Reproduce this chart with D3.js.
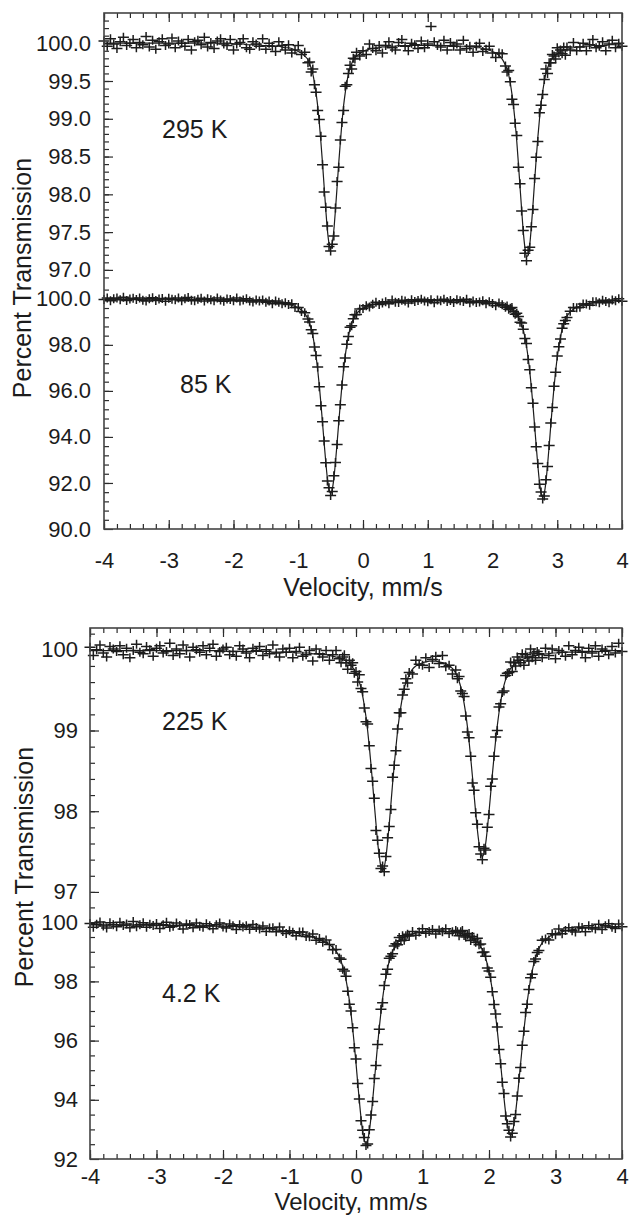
<!DOCTYPE html>
<html>
<head>
<meta charset="utf-8">
<title>Percent Transmission vs Velocity</title>
<script src="https://d3js.org/d3.v7.min.js"></script>
<style>
  body { margin: 0; background: #ffffff; }
  svg { display: block; }
</style>
</head>
<body>
<svg id="chart" width="633" height="1217"></svg>
<script>
// velocity channels (mm/s), upper figure
var velocityTop = [-4,-3.95,-3.9,-3.85,-3.8,-3.75,-3.7,-3.65,-3.6,-3.55,-3.5,-3.45,-3.4,-3.35,-3.3,-3.25,-3.2,-3.15,-3.1,-3.05,-3,-2.95,-2.9,-2.85,-2.8,-2.75,-2.7,-2.65,-2.6,-2.55,-2.5,-2.45,-2.4,-2.35,-2.3,-2.25,-2.2,-2.15,-2.1,-2.05,-2,-1.95,-1.9,-1.85,-1.8,-1.75,-1.7,-1.65,-1.6,-1.55,-1.5,-1.45,-1.4,-1.35,-1.3,-1.25,-1.2,-1.15,-1.1,-1.05,-1,-0.95,-0.9,-0.85,
  -0.825,-0.8,-0.775,-0.75,-0.725,-0.7,-0.675,-0.65,-0.625,-0.6,-0.575,-0.55,-0.525,-0.5,-0.475,-0.45,-0.425,-0.4,-0.375,-0.35,-0.325,-0.3,-0.275,-0.25,-0.225,-0.2,-0.175,-0.15,-0.125,
  -0.1,-0.05,0,0.05,0.1,0.15,0.2,0.25,0.3,0.35,0.4,0.45,0.5,0.55,0.6,0.65,0.7,0.75,0.8,0.85,0.9,0.95,1,1.05,1.1,1.15,1.2,1.25,1.3,1.35,1.4,1.45,1.5,1.55,1.6,1.65,1.7,1.75,1.8,1.85,1.9,1.95,2,2.05,2.1,2.15,2.2,
  2.225,2.25,2.275,2.3,2.325,2.35,2.375,2.4,2.425,2.45,2.475,2.5,2.525,2.55,2.575,2.6,2.625,2.65,2.675,2.7,2.725,2.75,2.775,2.8,2.825,2.85,2.875,2.9,2.925,2.95,2.975,3,3.025,3.05,3.075,3.1,3.125,
  3.15,3.2,3.25,3.3,3.35,3.4,3.45,3.5,3.55,3.6,3.65,3.7,3.75,3.8,3.85,3.9,3.95,4];

// 295 K: measured points and fitted curve (% transmission)
var data295 = [100.03,99.96,100.06,99.99,99.93,100.02,100.08,99.97,100.00,100.05,99.94,100.01,99.98,100.09,99.95,100.04,99.92,100.02,100.06,99.97,99.99,100.07,99.94,100.03,100.00,99.96,100.05,99.91,100.02,100.04,99.98,100.08,99.95,100.01,99.93,100.03,100.06,99.99,99.97,100.05,99.91,99.99,100.01,100.06,99.94,99.92,100.02,99.99,99.96,100.06,99.92,100.00,99.96,99.89,100.02,99.97,99.91,99.98,99.87,99.91,99.97,99.85,99.88,99.74,
  99.75,99.62,99.66,99.45,99.35,99.11,98.99,98.77,98.39,98.03,97.83,97.58,97.31,97.25,97.34,97.45,97.82,98.17,98.36,98.72,98.95,99.11,99.43,99.45,99.60,99.71,99.66,99.80,99.79,
  99.88,99.83,99.90,99.85,99.99,99.93,99.90,99.97,99.87,99.97,100.02,99.94,99.91,100.01,100.05,99.96,99.90,100.00,99.98,99.93,100.03,99.94,99.99,100.22,100.02,99.97,99.95,100.04,99.91,100.01,99.96,99.99,99.91,100.04,99.93,99.96,99.88,99.96,100.00,99.89,99.92,99.96,99.87,99.81,99.87,99.86,99.70,
  99.62,99.64,99.49,99.26,99.19,98.94,98.78,98.36,98.14,97.78,97.52,97.22,97.12,97.26,97.30,97.57,97.80,98.21,98.49,98.70,99.08,99.18,99.32,99.52,99.66,99.60,99.74,99.74,99.85,99.83,99.79,99.94,99.87,99.91,99.86,99.95,99.84,
  99.95,99.91,100.01,99.90,99.95,100.00,99.90,99.98,100.05,99.94,99.96,100.02,99.90,99.99,100.04,99.94,100.00,99.96];
var fit295 = [100,100,100,100,100,100,100,100,100,100,100,100,100,100,100,100,100,100,100,100,100,100,100,100,100,100,100,100,100,100,100,100,100,100,100,100,100,100,100,100,99.99,99.99,99.99,99.99,99.98,99.98,99.98,99.98,99.98,99.97,99.97,99.97,99.97,99.96,99.96,99.95,99.94,99.94,99.93,99.91,99.89,99.87,99.83,99.78,
  99.73,99.67,99.59,99.48,99.34,99.17,98.95,98.69,98.41,98.10,97.80,97.53,97.35,97.28,97.35,97.53,97.80,98.10,98.41,98.69,98.95,99.17,99.34,99.48,99.59,99.67,99.73,99.78,99.81,
  99.83,99.86,99.89,99.91,99.92,99.93,99.94,99.94,99.95,99.95,99.96,99.96,99.96,99.97,99.97,99.97,99.97,99.97,99.97,99.97,99.97,99.97,99.97,99.97,99.97,99.97,99.97,99.97,99.97,99.97,99.97,99.96,99.96,99.96,99.96,99.95,99.95,99.94,99.94,99.93,99.92,99.91,99.89,99.87,99.84,99.79,99.71,
  99.66,99.58,99.47,99.33,99.16,98.95,98.70,98.41,98.10,97.80,97.51,97.30,97.18,97.19,97.33,97.57,97.86,98.17,98.47,98.75,98.99,99.20,99.36,99.49,99.60,99.67,99.73,99.77,99.80,99.83,99.85,99.86,99.88,99.89,99.90,99.91,99.92,
  99.92,99.93,99.94,99.95,99.95,99.96,99.96,99.96,99.97,99.97,99.97,99.97,99.97,99.98,99.98,99.98,99.98,99.98];

// 85 K
var data85 = [99.97,100.04,99.92,100.00,100.03,99.96,100.07,99.93,99.99,100.02,99.97,100.04,99.94,99.90,100.00,100.05,99.93,99.99,100.01,99.89,100.02,99.98,99.96,100.04,99.92,100.00,100.06,99.94,99.92,99.98,100.02,99.90,100.00,99.96,99.92,100.03,99.95,99.89,99.99,99.97,99.92,100.03,99.90,99.95,100.00,99.91,99.86,99.95,99.91,99.95,99.85,99.90,99.79,99.91,99.85,99.79,99.83,99.75,99.79,99.62,99.62,99.45,99.39,99.12,
  98.99,98.66,98.49,97.91,97.54,97.04,96.18,95.35,94.66,93.82,92.88,92.08,91.79,91.45,91.63,92.31,92.89,93.67,94.70,95.40,96.26,97.05,97.43,98.03,98.36,98.76,98.83,99.13,99.31,
  99.32,99.56,99.58,99.70,99.64,99.76,99.85,99.75,99.82,99.87,99.79,99.95,99.85,99.84,99.94,99.90,99.82,99.96,99.88,99.93,99.98,99.90,99.87,99.96,99.83,99.95,99.92,99.98,99.88,99.93,99.84,99.96,99.92,99.88,99.98,99.83,99.91,99.84,99.86,99.92,99.79,99.87,99.80,99.70,99.82,99.74,99.63,
  99.69,99.55,99.59,99.62,99.45,99.33,99.37,99.23,98.98,98.95,98.68,98.28,98.06,97.36,96.92,96.14,95.46,94.43,93.57,92.85,91.94,91.61,91.30,91.43,92.14,92.71,93.63,94.61,95.28,96.20,96.81,97.52,97.92,98.25,98.72,98.92,99.06,
  99.19,99.46,99.62,99.61,99.63,99.77,99.78,99.72,99.87,99.87,99.83,99.94,99.88,99.83,99.95,99.92,100.00,99.89];
var fit85 = [99.99,99.99,99.99,99.99,99.99,99.99,99.99,99.99,99.99,99.99,99.98,99.98,99.98,99.98,99.98,99.98,99.98,99.98,99.98,99.98,99.98,99.98,99.98,99.98,99.98,99.98,99.97,99.97,99.97,99.97,99.97,99.97,99.97,99.96,99.96,99.96,99.96,99.95,99.95,99.95,99.95,99.95,99.95,99.94,99.94,99.93,99.93,99.92,99.91,99.90,99.89,99.88,99.87,99.85,99.84,99.82,99.79,99.76,99.72,99.67,99.60,99.51,99.36,99.12,
  98.93,98.70,98.39,97.99,97.51,96.92,96.24,95.45,94.61,93.74,92.91,92.20,91.72,91.55,91.72,92.20,92.91,93.74,94.61,95.45,96.24,96.92,97.51,97.99,98.39,98.70,98.93,99.12,99.26,
  99.35,99.50,99.59,99.66,99.71,99.74,99.77,99.80,99.82,99.84,99.85,99.86,99.87,99.88,99.89,99.89,99.90,99.90,99.91,99.91,99.91,99.91,99.92,99.92,99.92,99.92,99.92,99.92,99.92,99.91,99.91,99.91,99.91,99.90,99.90,99.89,99.88,99.87,99.86,99.85,99.84,99.83,99.81,99.78,99.76,99.72,99.67,
  99.65,99.61,99.57,99.53,99.48,99.41,99.32,99.22,99.08,98.88,98.65,98.33,97.94,97.45,96.86,96.16,95.36,94.50,93.61,92.77,92.05,91.56,91.39,91.56,92.05,92.77,93.61,94.50,95.36,96.16,96.86,97.45,97.94,98.34,98.66,98.89,99.10,
  99.24,99.43,99.55,99.63,99.69,99.73,99.77,99.80,99.82,99.85,99.86,99.88,99.89,99.90,99.91,99.92,99.92,99.93];

// velocity channels (mm/s), lower figure
var velocityBottom = [-4,-3.95,-3.9,-3.85,-3.8,-3.75,-3.7,-3.65,-3.6,-3.55,-3.5,-3.45,-3.4,-3.35,-3.3,-3.25,-3.2,-3.15,-3.1,-3.05,-3,-2.95,-2.9,-2.85,-2.8,-2.75,-2.7,-2.65,-2.6,-2.55,-2.5,-2.45,-2.4,-2.35,-2.3,-2.25,-2.2,-2.15,-2.1,-2.05,-2,-1.95,-1.9,-1.85,-1.8,-1.75,-1.7,-1.65,-1.6,-1.55,-1.5,-1.45,-1.4,-1.35,-1.3,-1.25,-1.2,-1.15,-1.1,-1.05,-1,-0.95,-0.9,-0.85,-0.8,-0.75,-0.7,-0.65,-0.6,-0.55,-0.5,-0.45,-0.4,-0.35,-0.3,-0.25,
  -0.225,-0.2,-0.175,-0.15,-0.125,-0.1,-0.075,-0.05,-0.025,0,0.025,0.05,0.075,0.1,0.125,0.15,0.175,0.2,0.225,0.25,0.275,0.3,0.325,0.35,0.375,0.4,0.425,0.45,0.475,0.5,0.525,0.55,0.575,0.6,0.625,0.65,0.675,0.7,0.725,0.75,0.775,
  0.8,0.85,0.9,0.95,1,1.05,1.1,1.15,1.2,1.25,1.3,1.35,1.4,1.45,1.5,
  1.525,1.55,1.575,1.6,1.625,1.65,1.675,1.7,1.725,1.75,1.775,1.8,1.825,1.85,1.875,1.9,1.925,1.95,1.975,2,2.025,2.05,2.075,2.1,2.125,2.15,2.175,2.2,2.225,2.25,2.275,2.3,2.325,2.35,2.375,2.4,2.425,2.45,2.475,2.5,2.525,2.55,2.575,2.6,2.625,2.65,2.675,2.7,2.725,
  2.75,2.8,2.85,2.9,2.95,3,3.05,3.1,3.15,3.2,3.25,3.3,3.35,3.4,3.45,3.5,3.55,3.6,3.65,3.7,3.75,3.8,3.85,3.9,3.95,4];

// 225 K
var data225 = [100.03,99.93,100.00,100.06,99.96,99.91,100.04,100.01,99.98,100.05,99.94,100.02,99.90,99.99,100.07,99.97,99.95,100.04,100.00,99.92,100.02,100.05,99.96,99.98,100.08,99.93,100.01,99.95,100.06,99.99,99.91,100.03,100.00,99.97,100.05,99.94,100.02,100.07,99.92,99.98,100.01,100.03,99.94,99.98,99.92,100.05,100.01,99.96,99.90,100.02,99.99,100.04,99.93,100.00,99.95,100.06,99.96,99.91,100.01,99.97,100.02,99.90,99.98,100.03,99.92,99.94,99.99,99.86,100.01,99.95,99.91,99.99,99.87,99.94,99.99,99.89,
  99.84,99.91,99.94,99.84,99.76,99.87,99.81,99.84,99.71,99.73,99.60,99.69,99.52,99.48,99.28,99.11,99.08,98.81,98.53,98.37,98.16,97.76,97.64,97.48,97.29,97.32,97.25,97.44,97.67,97.81,98.02,98.42,98.57,98.75,99.02,99.22,99.22,99.44,99.51,99.64,99.59,
  99.72,99.70,99.87,99.82,99.81,99.90,99.78,99.88,99.92,99.83,99.93,99.79,99.81,99.70,99.75,
  99.64,99.67,99.49,99.46,99.42,99.18,98.98,98.91,98.68,98.35,98.26,97.98,97.84,97.56,97.47,97.40,97.54,97.52,97.80,97.96,98.31,98.40,98.68,98.92,99.00,99.29,99.33,99.47,99.49,99.68,99.71,99.72,99.85,99.73,99.84,99.80,99.91,99.87,99.84,99.95,99.81,99.94,99.91,99.86,100.01,99.90,99.96,99.87,99.98,
  99.95,99.90,100.02,99.93,100.01,99.89,99.99,99.97,99.92,100.05,99.94,99.99,100.03,99.97,99.90,100.02,99.96,100.05,99.92,100.01,99.99,99.94,100.04,99.96,100.08,99.98];
var fit225 = [99.99,99.99,99.99,99.99,99.99,99.99,99.99,99.99,99.99,99.99,99.99,99.99,99.99,99.99,99.99,99.99,99.99,99.99,99.99,99.99,99.99,99.99,99.99,99.99,99.99,99.99,99.99,99.99,99.99,99.99,99.99,99.99,99.99,99.99,99.99,99.99,99.99,99.99,99.99,99.99,99.99,99.98,99.98,99.98,99.98,99.98,99.98,99.98,99.98,99.98,99.98,99.98,99.98,99.98,99.98,99.97,99.97,99.97,99.97,99.97,99.97,99.97,99.96,99.96,99.96,99.96,99.96,99.95,99.95,99.94,99.94,99.94,99.93,99.92,99.91,99.90,
  99.89,99.88,99.87,99.86,99.84,99.83,99.81,99.78,99.75,99.71,99.67,99.60,99.53,99.43,99.31,99.17,99.00,98.80,98.58,98.34,98.09,97.85,97.62,97.44,97.31,97.26,97.31,97.43,97.62,97.84,98.09,98.34,98.57,98.79,98.99,99.16,99.30,99.42,99.52,99.59,99.64,
  99.69,99.76,99.80,99.82,99.84,99.85,99.86,99.86,99.86,99.85,99.84,99.83,99.80,99.77,99.71,
  99.66,99.61,99.54,99.45,99.34,99.21,99.05,98.87,98.66,98.44,98.21,97.98,97.77,97.60,97.48,97.44,97.48,97.60,97.78,97.99,98.22,98.45,98.67,98.88,99.06,99.22,99.35,99.47,99.56,99.63,99.68,99.73,99.77,99.79,99.82,99.84,99.85,99.86,99.87,99.88,99.89,99.90,99.91,99.91,99.92,99.92,99.93,99.93,99.93,
  99.94,99.94,99.95,99.95,99.96,99.96,99.96,99.97,99.97,99.97,99.97,99.97,99.97,99.98,99.98,99.98,99.98,99.98,99.98,99.98,99.98,99.98,99.99,99.99,99.99,99.99];

// 4.2 K
var data4 = [99.96,99.83,99.93,100.01,99.87,99.80,99.98,99.91,99.85,100.00,99.89,99.94,99.81,100.02,99.85,99.91,99.98,99.83,99.93,99.89,99.96,99.79,99.91,100.00,99.83,99.86,99.97,99.89,99.77,99.94,99.92,99.81,99.97,99.86,99.83,99.95,99.88,99.78,99.91,99.97,99.84,99.80,99.94,99.88,99.75,99.91,99.84,99.88,99.76,99.92,99.82,99.77,99.87,99.69,99.80,99.81,99.68,99.84,99.69,99.62,99.71,99.66,99.54,99.67,99.67,99.52,99.51,99.60,99.39,99.45,99.32,99.40,99.25,99.07,99.08,98.79,
  98.75,98.41,98.35,98.17,97.67,97.23,97.00,96.43,95.76,95.38,94.55,94.03,93.29,92.97,92.73,92.46,92.51,92.99,93.49,93.94,94.72,95.16,95.87,96.38,97.06,97.28,97.86,98.24,98.41,98.78,98.85,98.93,99.20,99.27,99.24,99.48,99.37,99.54,99.39,99.54,99.59,
  99.53,99.69,99.56,99.67,99.78,99.63,99.69,99.75,99.60,99.74,99.68,99.78,99.62,99.68,99.72,
  99.68,99.54,99.68,99.72,99.55,99.50,99.57,99.62,99.38,99.52,99.43,99.32,99.46,99.24,99.26,98.98,98.99,98.85,98.45,98.35,98.14,97.65,97.22,96.90,96.46,95.70,95.22,94.59,94.21,93.45,93.19,92.97,92.74,92.87,93.27,93.50,94.13,94.73,95.09,95.84,96.32,96.95,97.23,97.73,98.12,98.24,98.67,98.76,98.98,
  99.04,99.39,99.43,99.40,99.61,99.58,99.77,99.61,99.72,99.81,99.71,99.67,99.84,99.82,99.68,99.88,99.81,99.77,99.93,99.75,99.88,99.95,99.83,99.79,99.94,99.85];
var fit4 = [99.91,99.91,99.91,99.91,99.91,99.91,99.91,99.91,99.91,99.91,99.91,99.90,99.90,99.90,99.90,99.90,99.90,99.90,99.90,99.90,99.90,99.89,99.89,99.89,99.89,99.89,99.89,99.89,99.89,99.89,99.89,99.88,99.88,99.88,99.88,99.88,99.87,99.87,99.87,99.87,99.87,99.86,99.86,99.86,99.86,99.85,99.85,99.84,99.84,99.83,99.82,99.81,99.80,99.79,99.77,99.76,99.74,99.73,99.71,99.69,99.67,99.65,99.63,99.61,99.59,99.56,99.53,99.50,99.46,99.42,99.37,99.31,99.25,99.15,99.02,98.82,
  98.68,98.51,98.31,98.05,97.73,97.36,96.92,96.41,95.85,95.24,94.59,93.97,93.40,92.94,92.63,92.53,92.63,92.94,93.40,93.97,94.59,95.24,95.86,96.44,96.95,97.42,97.82,98.17,98.46,98.68,98.87,99.02,99.14,99.24,99.31,99.36,99.41,99.46,99.49,99.52,99.54,
  99.57,99.61,99.63,99.65,99.67,99.68,99.69,99.69,99.69,99.70,99.70,99.69,99.68,99.67,99.65,
  99.65,99.63,99.62,99.61,99.59,99.57,99.55,99.53,99.50,99.47,99.43,99.38,99.33,99.27,99.18,99.08,98.95,98.78,98.58,98.33,98.04,97.70,97.30,96.84,96.34,95.79,95.21,94.63,94.07,93.56,93.16,92.89,92.80,92.89,93.16,93.57,94.08,94.64,95.22,95.80,96.35,96.85,97.31,97.71,98.06,98.35,98.60,98.80,98.97,
  99.10,99.30,99.41,99.50,99.56,99.61,99.65,99.68,99.71,99.73,99.75,99.76,99.78,99.79,99.80,99.81,99.81,99.82,99.83,99.83,99.84,99.84,99.85,99.85,99.86,99.86];

// tick labels
var velocityTicks = [-4, -3, -2, -1, 0, 1, 2, 3, 4];
var ticks295 = [97.0, 97.5, 98.0, 98.5, 99.0, 99.5, 100.0];
var ticks85 = [90, 92, 94, 96, 98, 100];
var ticks225 = [97, 98, 99, 100];
var ticks4 = [92, 94, 96, 98, 100];
var panelLabels = ["295 K", "85 K", "225 K", "4.2 K"];
var xTitle = "Velocity, mm/s";
var yTitle = "Percent Transmission";

var font = "'Liberation Sans', Arial, Helvetica, sans-serif";
var ink = "#1c1c1c";
var tickFont = 22;

var svg = d3.select("#chart");

var figures = [
  {
    left: 104, right: 622, top: 13, bottom: 529,
    velocity: velocityTop, yPad: 13, xPad: 23, titleSize: 25,
    xTitleX: 363, xTitleY: 596, yTitleX: 31, yTitleY: 278,
    panels: [
      { data: data295, fit: fit295, domain: [96.8, 100.4], range: [285, 13], ticks: ticks295,
        minorStart: 96.8, minorStep: 0.1, format: d3.format(".1f"), label: panelLabels[0], lx: 162, ly: 138 },
      { data: data85, fit: fit85, domain: [90, 100.6], range: [529, 285], ticks: ticks85,
        minorStart: 90, minorStep: 0.4, format: d3.format(".1f"), label: panelLabels[1], lx: 180, ly: 393 }
    ]
  },
  {
    left: 90, right: 622, top: 628, bottom: 1159,
    velocity: velocityBottom, yPad: 12, xPad: 9, titleSize: 24,
    xTitleX: 351, xTitleY: 1210, yTitleX: 33, yTitleY: 867,
    panels: [
      { data: data225, fit: fit225, domain: [96.9, 100.27], range: [900, 628], ticks: ticks225,
        minorStart: 97, minorStep: 0.2, format: d3.format("d"), label: panelLabels[2], lx: 162, ly: 730 },
      { data: data4, fit: fit4, domain: [92, 100.75], range: [1159, 900], ticks: ticks4,
        minorStart: 92, minorStep: 0.5, format: d3.format("d"), label: panelLabels[3], lx: 162, ly: 1002 }
    ]
  }
];

function styleAxis(g) {
  g.attr("font-family", null).attr("font-size", null).attr("color", "#2b2b2b");
  g.select(".domain").remove();
  g.selectAll(".tick line").attr("stroke-width", 1.2);
  g.selectAll(".tick text").attr("font-family", font).attr("font-size", tickFont).attr("fill", ink);
}

function minorValues(start, step, lo, hi) {
  var vals = [];
  for (var i = 0; ; i++) {
    var v = +(start + i * step).toFixed(4);
    if (v >= hi - 1e-6) break;
    if (v > lo + 1e-6) vals.push(v);
  }
  return vals;
}

figures.forEach(function(fig) {
  var x = d3.scaleLinear().domain([-4, 4]).range([fig.left, fig.right]);
  var g = svg.append("g");
  var minorX = minorValues(-4, 0.2, -4.01, 4.01);

  // x axes, ticks pointing inward on bottom and top
  g.append("g").attr("transform", "translate(0," + fig.bottom + ")")
    .call(d3.axisBottom(x).tickValues(minorX).tickSize(-5).tickFormat(""))
    .call(styleAxis);
  g.append("g").attr("transform", "translate(0," + fig.bottom + ")")
    .call(d3.axisBottom(x).tickValues(velocityTicks).tickSize(-9).tickPadding(fig.xPad)
      .tickFormat(function(d) { return String(d); }))
    .call(styleAxis);
  g.append("g").attr("transform", "translate(0," + fig.top + ")")
    .call(d3.axisTop(x).tickValues(minorX).tickSize(-5).tickFormat(""))
    .call(styleAxis);
  g.append("g").attr("transform", "translate(0," + fig.top + ")")
    .call(d3.axisTop(x).tickValues(velocityTicks).tickSize(-9).tickFormat(""))
    .call(styleAxis);

  fig.panels.forEach(function(p) {
    if (p.data.length !== fig.velocity.length || p.fit.length !== fig.velocity.length) {
      throw new Error(p.label + ": " + fig.velocity.length + " / " + p.data.length + " / " + p.fit.length);
    }
    var y = d3.scaleLinear().domain(p.domain).range(p.range);

    g.append("g").attr("transform", "translate(" + fig.left + ",0)")
      .call(d3.axisLeft(y).tickValues(minorValues(p.minorStart, p.minorStep, p.domain[0], p.domain[1]))
        .tickSize(-5).tickFormat(""))
      .call(styleAxis);
    g.append("g").attr("transform", "translate(" + fig.left + ",0)")
      .call(d3.axisLeft(y).tickValues(p.ticks).tickSize(-9).tickPadding(fig.yPad).tickFormat(p.format))
      .call(styleAxis);

    var pts = fig.velocity.map(function(v, i) { return { v: v, t: p.data[i], f: p.fit[i] }; });

    // fitted curve
    g.append("path")
      .datum(pts)
      .attr("fill", "none")
      .attr("stroke", ink)
      .attr("stroke-width", 1.2)
      .attr("d", d3.line().x(function(d) { return x(d.v); }).y(function(d) { return y(d.f); })
        .curve(d3.curveMonotoneX));

    // measured points as + marks
    g.append("g").selectAll("path.pt")
      .data(pts)
      .join("path")
      .attr("class", "pt")
      .attr("fill", "none")
      .attr("stroke", ink)
      .attr("stroke-width", 1.5)
      .attr("d", function(d) {
        var px = x(d.v), py = y(d.t);
        return "M" + (px - 5.5) + "," + py + "h11M" + px + "," + (py - 4.5) + "v9";
      });

    g.append("text")
      .attr("x", p.lx).attr("y", p.ly)
      .attr("font-family", font).attr("font-size", 25).attr("fill", ink)
      .text(p.label);
  });

  // frame
  g.append("rect")
    .attr("x", fig.left).attr("y", fig.top)
    .attr("width", fig.right - fig.left).attr("height", fig.bottom - fig.top)
    .attr("fill", "none").attr("stroke", "#444").attr("stroke-width", 1.6);

  g.append("text")
    .attr("x", fig.xTitleX).attr("y", fig.xTitleY)
    .attr("text-anchor", "middle")
    .attr("font-family", font).attr("font-size", fig.titleSize).attr("fill", ink)
    .text(xTitle);

  g.append("text")
    .attr("transform", "translate(" + fig.yTitleX + "," + fig.yTitleY + ") rotate(-90)")
    .attr("text-anchor", "middle")
    .attr("font-family", font).attr("font-size", 25).attr("fill", ink)
    .text(yTitle);
});
</script>
</body>
</html>
